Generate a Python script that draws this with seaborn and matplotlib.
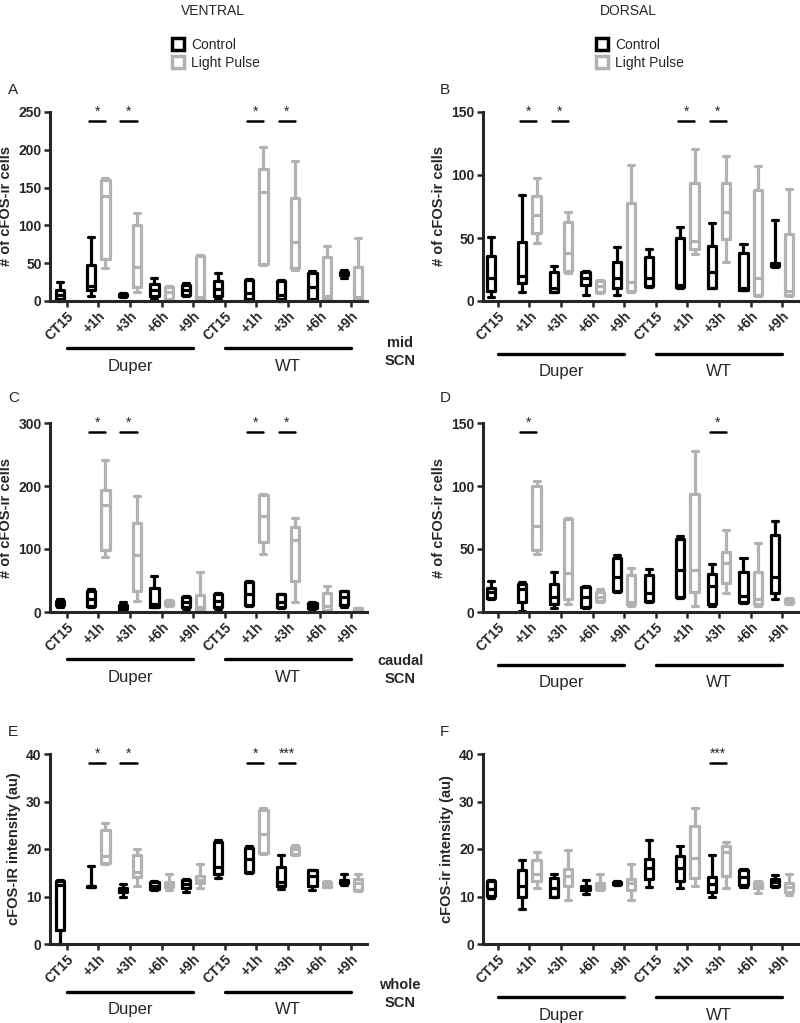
import matplotlib.pyplot as plt
import matplotlib.transforms as mtransforms
from matplotlib.patches import Patch
import pandas as pd
import seaborn as sns

sns.set_style("ticks")
plt.rcParams["font.family"] = ["Liberation Sans", "DejaVu Sans"]

TIMES = ["CT15", "+1h", "+3h", "+6h", "+9h"]
GENOTYPES = ["Duper", "WT"]
CONDITIONS = ["Control", "Light Pulse"]
GROUP_KEYS = [f"{g} {t}" for g in GENOTYPES for t in TIMES]

CTRL_COLOR = "black"
LP_COLOR = "#b2b2b2"

# five-number summaries (min, q1, median, q3, max)
# order: Duper CT15 .. +9h, then WT CT15 .. +9h; None = group not measured

# A: ventral, mid SCN
A_CTRL = [[0, 2, 8, 15, 25], [7, 14, 20, 47, 84], [5, 6, 7, 9, 10],
          [3, 6, 14, 22, 30], [6, 8, 14, 21, 24], [3, 6, 16, 27, 37],
          [0, 2, 10, 28, 29], [0, 2, 8, 27, 28], [1, 3, 19, 37, 40],
          [31, 34, 37, 39, 41]]
A_LP = [None, [44, 55, 139, 160, 163], [12, 18, 45, 101, 117],
        [0, 3, 12, 19, 20], [1, 2, 5, 60, 61], None,
        [48, 49, 144, 175, 204], [41, 43, 78, 136, 185],
        [2, 3, 7, 58, 73], [1, 2, 5, 45, 83]]
A_SIG = {1: "*", 2: "*", 6: "*", 7: "*"}

# B: dorsal, mid SCN
B_CTRL = [[3, 8, 18, 36, 51], [7, 14, 20, 47, 84], [7, 7, 10, 23, 28],
          [5, 13, 18, 23, 24], [5, 10, 18, 31, 43], [11, 12, 18, 35, 41],
          [10, 11, 13, 50, 59], [10, 10, 23, 44, 62], [9, 9, 10, 38, 45],
          [27, 28, 29, 30, 64]]
B_LP = [None, [46, 54, 68, 83, 98], [22, 24, 38, 63, 71],
        [6, 7, 12, 16, 17], [7, 8, 15, 78, 108], None,
        [37, 41, 48, 94, 121], [31, 49, 71, 94, 115],
        [4, 5, 18, 88, 107], [4, 5, 8, 53, 89]]
B_SIG = {1: "*", 2: "*", 6: "*", 7: "*"}

# C: ventral, caudal SCN
C_CTRL = [[8, 11, 14, 18, 20], [8, 10, 20, 33, 37], [3, 4, 8, 11, 16],
          [8, 8, 13, 38, 57], [5, 8, 16, 24, 25], [5, 8, 18, 29, 30],
          [9, 11, 28, 48, 50], [6, 8, 16, 28, 29], [5, 6, 9, 14, 16],
          [8, 11, 24, 33, 34]]
C_LP = [None, [88, 98, 170, 193, 242], [17, 34, 90, 141, 184],
        [9, 11, 15, 18, 19], [2, 3, 8, 27, 63], None,
        [92, 111, 153, 185, 187], [16, 50, 115, 135, 149],
        [2, 3, 10, 30, 42], [2, 3, 4, 6, 7]]
C_SIG = {1: "*", 2: "*", 6: "*", 7: "*"}

# D: dorsal, caudal SCN
D_CTRL = [[10, 11, 16, 19, 25], [1, 8, 18, 22, 24], [3, 6, 12, 22, 32],
          [3, 4, 12, 20, 21], [16, 17, 28, 43, 45], [8, 9, 15, 29, 34],
          [11, 12, 33, 58, 60], [5, 6, 21, 30, 38], [7, 8, 13, 32, 43],
          [10, 15, 28, 61, 72]]
D_LP = [None, [46, 49, 68, 100, 104], [6, 10, 31, 74, 75],
        [8, 9, 12, 16, 18], [5, 6, 8, 29, 35], None,
        [5, 16, 33, 94, 128], [15, 23, 39, 48, 65],
        [5, 6, 10, 32, 55], [6, 7, 8, 10, 11]]
D_SIG = {1: "*", 7: "*"}

# E: ventral, whole SCN intensity
E_CTRL = [[0, 3, 12.5, 13.2, 13.4], [12, 12, 12.2, 12.3, 16.5],
          [9.8, 11, 11.5, 11.8, 12.6], [11.4, 11.6, 12.3, 13, 13.3],
          [11, 11.8, 12.7, 13.5, 13.7], [13.9, 14.8, 16.3, 21.5, 21.8],
          [15, 15.1, 18, 20.3, 20.6], [11.5, 12.3, 13, 16.3, 18.8],
          [11.4, 12.3, 14.3, 15.5, 15.6], [12.5, 12.8, 13.2, 13.5, 14.8]]
E_LP = [None, [16.8, 17, 18.5, 24, 25.4], [12.3, 14.2, 15.2, 18.8, 19.9],
        [11.3, 11.9, 12.4, 13, 14.8], [11.8, 12.8, 13.5, 14.4, 16.9], None,
        [19, 19.2, 23.2, 28.3, 28.6], [18.8, 19, 19.9, 20.5, 20.9],
        [11.9, 12.1, 12.5, 13, 13.2], [11.2, 11.3, 12.8, 13.7, 14.8]]
E_SIG = {1: "*", 2: "*", 6: "*", 7: "***"}

# F: dorsal, whole SCN intensity
F_CTRL = [[9.7, 10.2, 11.5, 13.2, 13.5], [7.3, 10, 12.3, 15.5, 17.7],
          [9.9, 10, 11.8, 13.9, 14.8], [10.6, 11.3, 11.9, 12.3, 13.5],
          [12.5, 12.6, 12.9, 13.1, 13.2], [12, 13.7, 16, 17.9, 21.9],
          [11.8, 13.2, 16, 18.5, 20.6], [9.9, 11, 12.7, 14.2, 18.7],
          [12.1, 12.5, 14.1, 15.5, 15.8], [12, 12.2, 13, 13.6, 14.6]]
F_LP = [None, [11.8, 13.3, 14.8, 17.6, 19.3], [9.2, 12.3, 14.4, 15.8, 19.7],
        [11.3, 11.6, 12.3, 12.8, 14.8], [9.3, 11.3, 12.8, 13.7, 16.8], None,
        [12.3, 13.9, 18.2, 24.8, 28.7], [11.8, 14.4, 19.3, 20.7, 21.5],
        [10.7, 11.8, 12.4, 13, 13.3], [10.4, 11, 12.1, 12.8, 14.8]]
F_SIG = {7: "***"}

CELLS = "# of cFOS-ir cells"
PANELS = [
    ("A", A_CTRL, A_LP, A_SIG, 250, 50, CELLS, 0, 0),
    ("B", B_CTRL, B_LP, B_SIG, 150, 50, CELLS, 0, 1),
    ("C", C_CTRL, C_LP, C_SIG, 300, 100, CELLS, 1, 0),
    ("D", D_CTRL, D_LP, D_SIG, 150, 50, CELLS, 1, 1),
    ("E", E_CTRL, E_LP, E_SIG, 40, 10, "cFOS-IR intensity (au)", 2, 0),
    ("F", F_CTRL, F_LP, F_SIG, 40, 10, "cFOS-ir intensity (au)", 2, 1),
]
ROW_NAMES = ["mid\nSCN", "caudal\nSCN", "whole\nSCN"]


def to_long(ctrl, lp):
    rows = []
    for key, c_vals, l_vals in zip(GROUP_KEYS, ctrl, lp):
        for cond, vals in zip(CONDITIONS, (c_vals, l_vals)):
            if vals is None:
                continue
            for v in vals:
                rows.append({"group": key, "condition": cond, "value": v})
    return pd.DataFrame(rows)


W, H = 800, 1023
fig = plt.figure(figsize=(W / 100, H / 100), dpi=100)

# axes boxes in pixels: (left, right) per column, (top, bottom) per row
COLS = [(50, 367), (483, 798)]
ROWS = [(112, 301), (423, 612), (754, 944)]
XLIMS = [(-0.53, 9.5), (-0.47, 9.5)]
LETTER_Y = [90, 398, 732]
ROW_NAME_Y = [352, 670, 994]

for letter, ctrl, lp, sig, ymax, ystep, ylabel, r, c in PANELS:
    (x0, x1), (y0, y1) = COLS[c], ROWS[r]
    ax = fig.add_axes([x0 / W, 1 - y1 / H, (x1 - x0) / W, (y1 - y0) / H])
    df = to_long(ctrl, lp)
    sns.boxplot(
        data=df, x="group", y="value", hue="condition",
        order=GROUP_KEYS, hue_order=CONDITIONS,
        palette={"Control": CTRL_COLOR, "Light Pulse": LP_COLOR},
        fill=False, whis=(0, 100), showfliers=False, dodge=True,
        width=0.9, gap=0.42, linewidth=2.3, legend=False, ax=ax,
        capwidths=0.19,
    )
    for art in ax.lines + ax.patches:
        art.set_clip_on(False)

    ax.set_xlim(*XLIMS[c])
    ax.set_ylim(0, ymax)
    ax.set_yticks(range(0, ymax + 1, ystep))
    ax.set_xticks(range(len(GROUP_KEYS)))
    ax.set_xticklabels(TIMES * 2, rotation=45, ha="right",
                       rotation_mode="anchor", fontweight="bold")
    for lbl in ax.get_yticklabels():
        lbl.set_fontweight("bold")
    ax.tick_params(axis="both", width=1.8, length=4, labelsize=10, pad=2)
    ax.set_xlabel("")
    ax.set_ylabel(ylabel, fontsize=10.5, fontweight="bold", labelpad=4)
    sns.despine(ax=ax)
    for side in ("left", "bottom"):
        ax.spines[side].set_linewidth(2.2)

    # significance bars
    for i, stars in sig.items():
        ax.plot([i - 0.3, i + 0.22], [0.955 * ymax] * 2, color="black",
                lw=1.8, clip_on=False)
        ax.text(i - 0.04, 0.965 * ymax, stars, ha="center", va="bottom",
                fontsize=10)

    # genotype brackets under the axis
    trans = mtransforms.blended_transform_factory(ax.transData, ax.transAxes)
    line_y = -0.25 if c == 0 else -0.28
    for g, genotype in enumerate(GENOTYPES):
        start, end = g * len(TIMES), g * len(TIMES) + len(TIMES) - 1
        ax.plot([start, end], [line_y, line_y], color="black", lw=2.4,
                transform=trans, clip_on=False, solid_capstyle="round")
        ax.text((start + end) / 2, line_y - 0.095, genotype, transform=trans,
                ha="center", va="center", fontsize=12)

    fig.text((8 if c == 0 else 440) / W, 1 - LETTER_Y[r] / H, letter,
             fontsize=11, ha="left", va="center")

for r, name in enumerate(ROW_NAMES):
    fig.text(400 / W, 1 - ROW_NAME_Y[r] / H, name, ha="center",
             va="center", fontsize=10.5, fontweight="bold", linespacing=1.35)

for title, x_title, x_leg in (("VENTRAL", 213, 166), ("DORSAL", 628, 590)):
    fig.text(x_title / W, 1 - 11 / H, title, ha="center", va="center",
             fontsize=10)
    handles = [
        Patch(facecolor="white", edgecolor=CTRL_COLOR, lw=2.5, label="Control"),
        Patch(facecolor="white", edgecolor=LP_COLOR, lw=2.5, label="Light Pulse"),
    ]
    fig.legend(handles=handles, loc="upper left",
               bbox_to_anchor=(x_leg / W, 1 - 32 / H), frameon=False,
               handlelength=0.9, handleheight=0.9, handletextpad=0.5,
               labelspacing=0.3, fontsize=10, borderaxespad=0)

fig.savefig("out.png", dpi=100)
